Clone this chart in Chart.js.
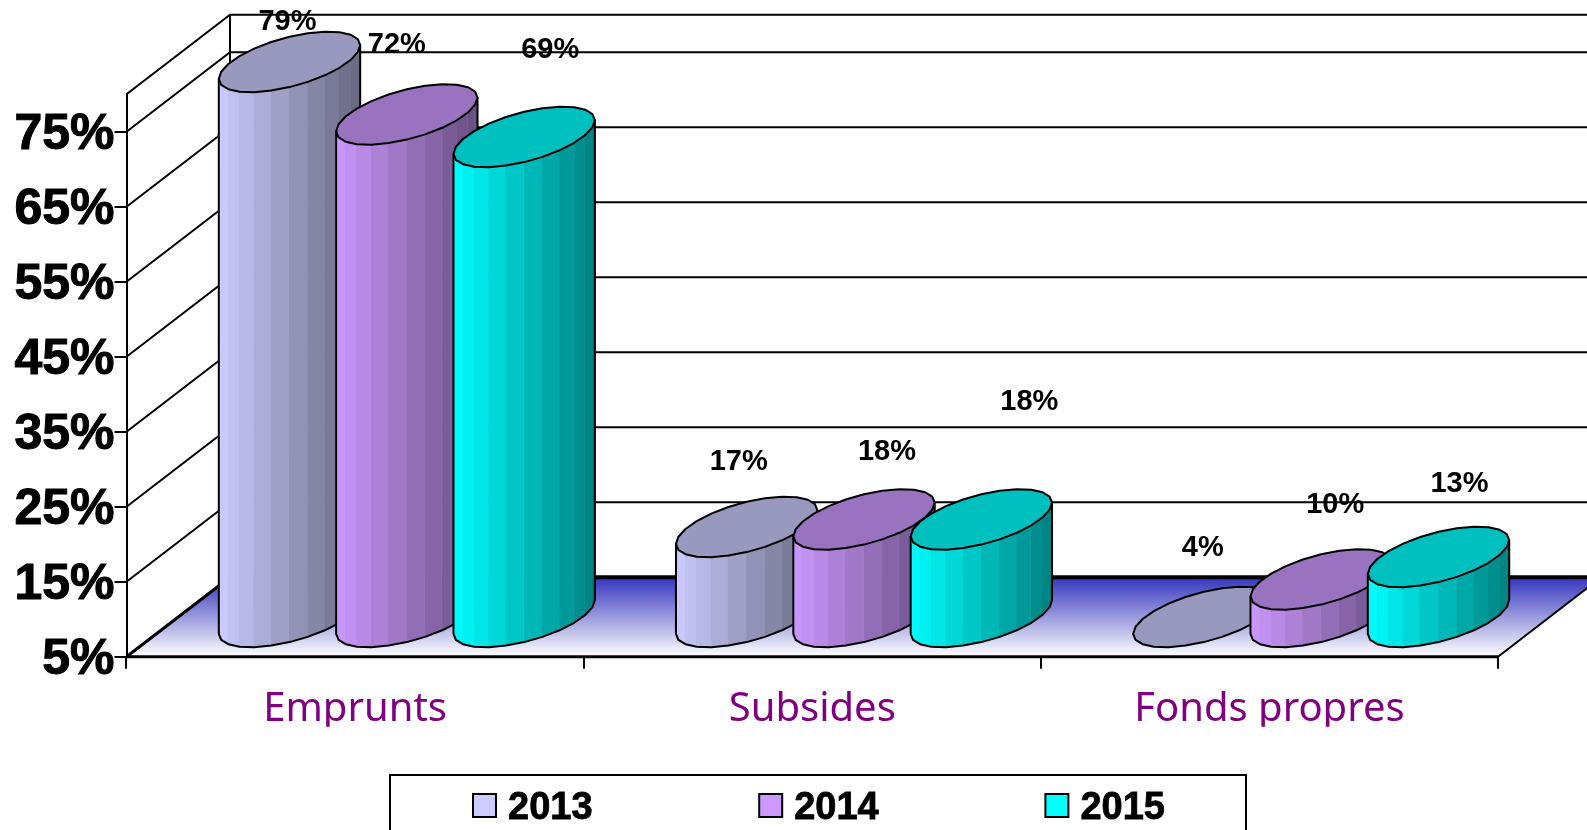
<!DOCTYPE html>
<html>
<head>
<meta charset="utf-8">
<style>
    html, body { margin: 0; padding: 0; background: #fff; overflow: hidden; }
    canvas { display: block; }
</style>
<script src="https://cdn.jsdelivr.net/npm/chart.js@4/dist/chart.umd.min.js"></script>
</head>
<body>
<canvas id="myChart" width="1587" height="830"></canvas>
<script>
///////////////
// Chart data //
///////////////
const categories = ["Emprunts", "Subsides", "Fonds propres"];
const years = ["2013", "2014", "2015"];
const values2013 = [79, 17, 4];
const values2014 = [72, 18, 10];
const values2015 = [69, 18, 13];
const tickValues = [5, 15, 25, 35, 45, 55, 65, 75];

const barColors = [[204, 204, 255], [204, 153, 255], [0, 255, 255]];

// 3d look of the plot: how far the back wall sits from the front plane
const DEPTH_X = 103.5;
const DEPTH_Y = 79.5;
const BAR_DEPTH = 0.762;

// value labels were moved by hand in the original, [dataset][category] = [dx, dy]
const labelNudge = [
    [[-2, -40], [-8, -65], [-1, -69]],
    [[-10, -69], [23, -67], [14, -74]],
    [[26, -87], [48, -117], [21, -73]]
];

const rgb = (c, f) => `rgb(${Math.round(c[0] * f)},${Math.round(c[1] * f)},${Math.round(c[2] * f)})`;

///////////////////////////////
// Walls, floor and back grid //
///////////////////////////////
const drawWalls = (chart) => {
    const ctx = chart.ctx;
    const area = chart.chartArea;
    const yAxis = chart.scales.y;
    const l = area.left, r = area.right, b = area.bottom, t = area.top;

    ctx.save();
    let grad = ctx.createLinearGradient(0, b - DEPTH_Y, 0, b);
    grad.addColorStop(0, "#3535bd");
    grad.addColorStop(1, "#ffffff");
    ctx.fillStyle = grad;
    ctx.beginPath();
    ctx.moveTo(l, b);
    ctx.lineTo(r, b);
    ctx.lineTo(r + DEPTH_X, b - DEPTH_Y);
    ctx.lineTo(l + DEPTH_X, b - DEPTH_Y);
    ctx.closePath();
    ctx.fill();

    ctx.strokeStyle = "#000";
    ctx.lineWidth = 2;
    ctx.beginPath();
    tickValues.concat([80]).forEach((v) => {
        const y = yAxis.getPixelForValue(v);
        ctx.moveTo(l, y);
        ctx.lineTo(l + DEPTH_X, y - DEPTH_Y);
        if (v !== 5) {
            ctx.lineTo(r + DEPTH_X, y - DEPTH_Y);
        }
    });
    ctx.moveTo(l + DEPTH_X, t - DEPTH_Y);
    ctx.lineTo(l + DEPTH_X, b - DEPTH_Y);
    ctx.moveTo(r, b);
    ctx.lineTo(r + DEPTH_X, b - DEPTH_Y);
    ctx.stroke();

    // back edge of the floor is heavier
    ctx.lineWidth = 4;
    ctx.beginPath();
    ctx.moveTo(l + DEPTH_X, b - DEPTH_Y);
    ctx.lineTo(r + DEPTH_X, b - DEPTH_Y);
    ctx.stroke();
    ctx.lineWidth = 3;
    ctx.beginPath();
    ctx.moveTo(l, b);
    ctx.lineTo(r, b);
    ctx.moveTo(l, b);
    ctx.lineTo(l + DEPTH_X, b - DEPTH_Y);
    ctx.stroke();
    ctx.restore();
};

///////////////
// Cylinders //
///////////////
const drawCylinder = (ctx, bar, floor, color) => {
    const cx = bar.x + DEPTH_X / 2;
    const bottom = floor - DEPTH_Y / 2;
    const top = Math.min(bar.y, floor) - DEPTH_Y / 2;
    const a = bar.width / 2;
    const sx = BAR_DEPTH * DEPTH_X / 2;
    const sy = BAR_DEPTH * DEPTH_Y / 2;
    const halfW = Math.hypot(a, sx);
    const start = Math.atan2(sx, a);

    const point = (t, y) => [cx + a * Math.cos(t) + sx * Math.sin(t), y - sy * Math.sin(t)];
    const FACETS = 12;
    const angle = (i) => start + Math.PI + Math.PI * i / FACETS;

    ctx.save();
    ctx.lineJoin = "round";

    // side, one flat facet at a time, bright on the left and dark on the right
    if (top < bottom) {
        for (let i = 0; i < FACETS; i++) {
            const p1 = point(angle(i), top);
            const p2 = point(angle(i + 1), top);
            const p3 = point(angle(i + 1), bottom);
            const p4 = point(angle(i), bottom);
            const mid = ((p1[0] + p2[0]) / 2 - (cx - halfW)) / (2 * halfW);
            const col = rgb(color, 1 - 0.5 * mid);
            ctx.fillStyle = col;
            ctx.strokeStyle = col;
            ctx.lineWidth = 1;
            ctx.beginPath();
            ctx.moveTo(p1[0], p1[1]);
            ctx.lineTo(p2[0], p2[1]);
            ctx.lineTo(p3[0], p3[1]);
            ctx.lineTo(p4[0], p4[1]);
            ctx.closePath();
            ctx.fill();
            ctx.stroke();
            if (mid > 0.4 && i < FACETS - 1) {
                ctx.strokeStyle = "rgba(255,255,255,0.28)";
                ctx.beginPath();
                ctx.moveTo(p2[0], p2[1]);
                ctx.lineTo(p3[0], p3[1]);
                ctx.stroke();
            }
        }
        ctx.strokeStyle = "#000";
        ctx.lineWidth = 2;
        ctx.beginPath();
        let p = point(angle(0), top);
        ctx.moveTo(p[0], p[1]);
        for (let i = 0; i <= FACETS; i++) {
            p = point(angle(i), bottom);
            ctx.lineTo(p[0], p[1]);
        }
        p = point(angle(FACETS), top);
        ctx.lineTo(p[0], p[1]);
        ctx.stroke();
    }

    // top face
    ctx.fillStyle = rgb(color, 0.75);
    ctx.strokeStyle = "#000";
    ctx.lineWidth = 2;
    ctx.beginPath();
    for (let i = 0; i < FACETS * 2; i++) {
        const p = point(angle(i), top);
        if (i === 0) ctx.moveTo(p[0], p[1]);
        else ctx.lineTo(p[0], p[1]);
    }
    ctx.closePath();
    ctx.fill();
    ctx.stroke();
    ctx.restore();
};

////////////
// Legend //
////////////
const drawLegend = (chart) => {
    const ctx = chart.ctx;
    ctx.save();
    ctx.fillStyle = "#fff";
    ctx.strokeStyle = "#000";
    ctx.lineWidth = 2;
    ctx.beginPath();
    ctx.rect(390, 775, 856, 80);
    ctx.fill();
    ctx.stroke();
    ctx.font = "bold 38px 'Liberation Sans'";
    ctx.textAlign = "left";
    ctx.textBaseline = "alphabetic";
    chart.data.datasets.forEach((d, i) => {
        const x = 473 + i * 286.2;
        ctx.fillStyle = rgb(barColors[i], 1);
        ctx.fillRect(x, 794, 23, 23);
        ctx.lineWidth = 2;
        ctx.strokeRect(x, 794, 23, 23);
        ctx.fillStyle = "#000";
        ctx.strokeStyle = "#000";
        ctx.lineWidth = 0.8;
        ctx.fillText(d.label, x + 35, 819);
        ctx.strokeText(d.label, x + 35, 819);
        ctx.lineWidth = 2;
    });
    ctx.restore();
};

const cylinderPlugin = {
    id: "cylinders",
    beforeDatasetsDraw(chart) {
        drawWalls(chart);
    },
    afterDatasetsDraw(chart) {
        const ctx = chart.ctx;
        const floor = chart.chartArea.bottom;
        const metas = chart.data.datasets.map((d, i) => chart.getDatasetMeta(i));
        categories.forEach((c, j) => {
            metas.forEach((meta, i) => drawCylinder(ctx, meta.data[j], floor, barColors[i]));
        });
        ctx.save();
        ctx.font = "bold 29px 'Liberation Sans'";
        ctx.fillStyle = "#000";
        ctx.textAlign = "center";
        ctx.textBaseline = "middle";
        metas.forEach((meta, i) => {
            meta.data.forEach((bar, j) => {
                const x = bar.x + DEPTH_X / 2 + labelNudge[i][j][0];
                const y = Math.min(bar.y, floor) - DEPTH_Y / 2 + labelNudge[i][j][1];
                ctx.fillText(chart.data.datasets[i].data[j] + "%", x, y);
            });
        });
        ctx.restore();
        drawLegend(chart);
    }
};

const clear = "rgba(0,0,0,0)";

const myChart = new Chart("myChart", {
    type: "bar",
    data: {
        labels: categories,
        datasets: [
            { label: years[0], data: values2013, backgroundColor: clear },
            { label: years[1], data: values2014, backgroundColor: clear },
            { label: years[2], data: values2015, backgroundColor: clear }
        ]
    },
    plugins: [cylinderPlugin],
    options: {
        responsive: false,
        animation: false,
        categoryPercentage: 0.77,
        barPercentage: 1,
        layout: { padding: { top: 94.2, right: 89, left: 0, bottom: 103.3 } },
        plugins: {
            legend: { display: false },
            title: { display: false },
            tooltip: { enabled: false }
        },
        scales: {
            x: {
                grid: { drawOnChartArea: false, color: "#000", lineWidth: 2, tickLength: 12 },
                border: { color: "#000", width: 2 },
                ticks: {
                    color: "#800080",
                    font: { family: "'Noto Sans'", size: 40 },
                    padding: 17,
                    maxRotation: 0,
                    autoSkip: false
                },
                afterFit(axis) { axis.height = 70; }
            },
            y: {
                min: 5,
                max: 80,
                grid: { drawOnChartArea: false, color: "#000", lineWidth: 2, tickLength: 12 },
                border: { color: "#000", width: 2 },
                ticks: {
                    color: "#000",
                    font: { family: "'Liberation Sans'", size: 50, weight: "bold" },
                    textStrokeColor: "#000",
                    textStrokeWidth: 1,
                    padding: 0,
                    labelOffset: 4,
                    callback: (v) => v + "%"
                },
                afterBuildTicks(axis) { axis.ticks = tickValues.map((v) => ({ value: v })); },
                afterFit(axis) { axis.width = 126.5; }
            }
        }
    }
});
</script>
</body>
</html>
